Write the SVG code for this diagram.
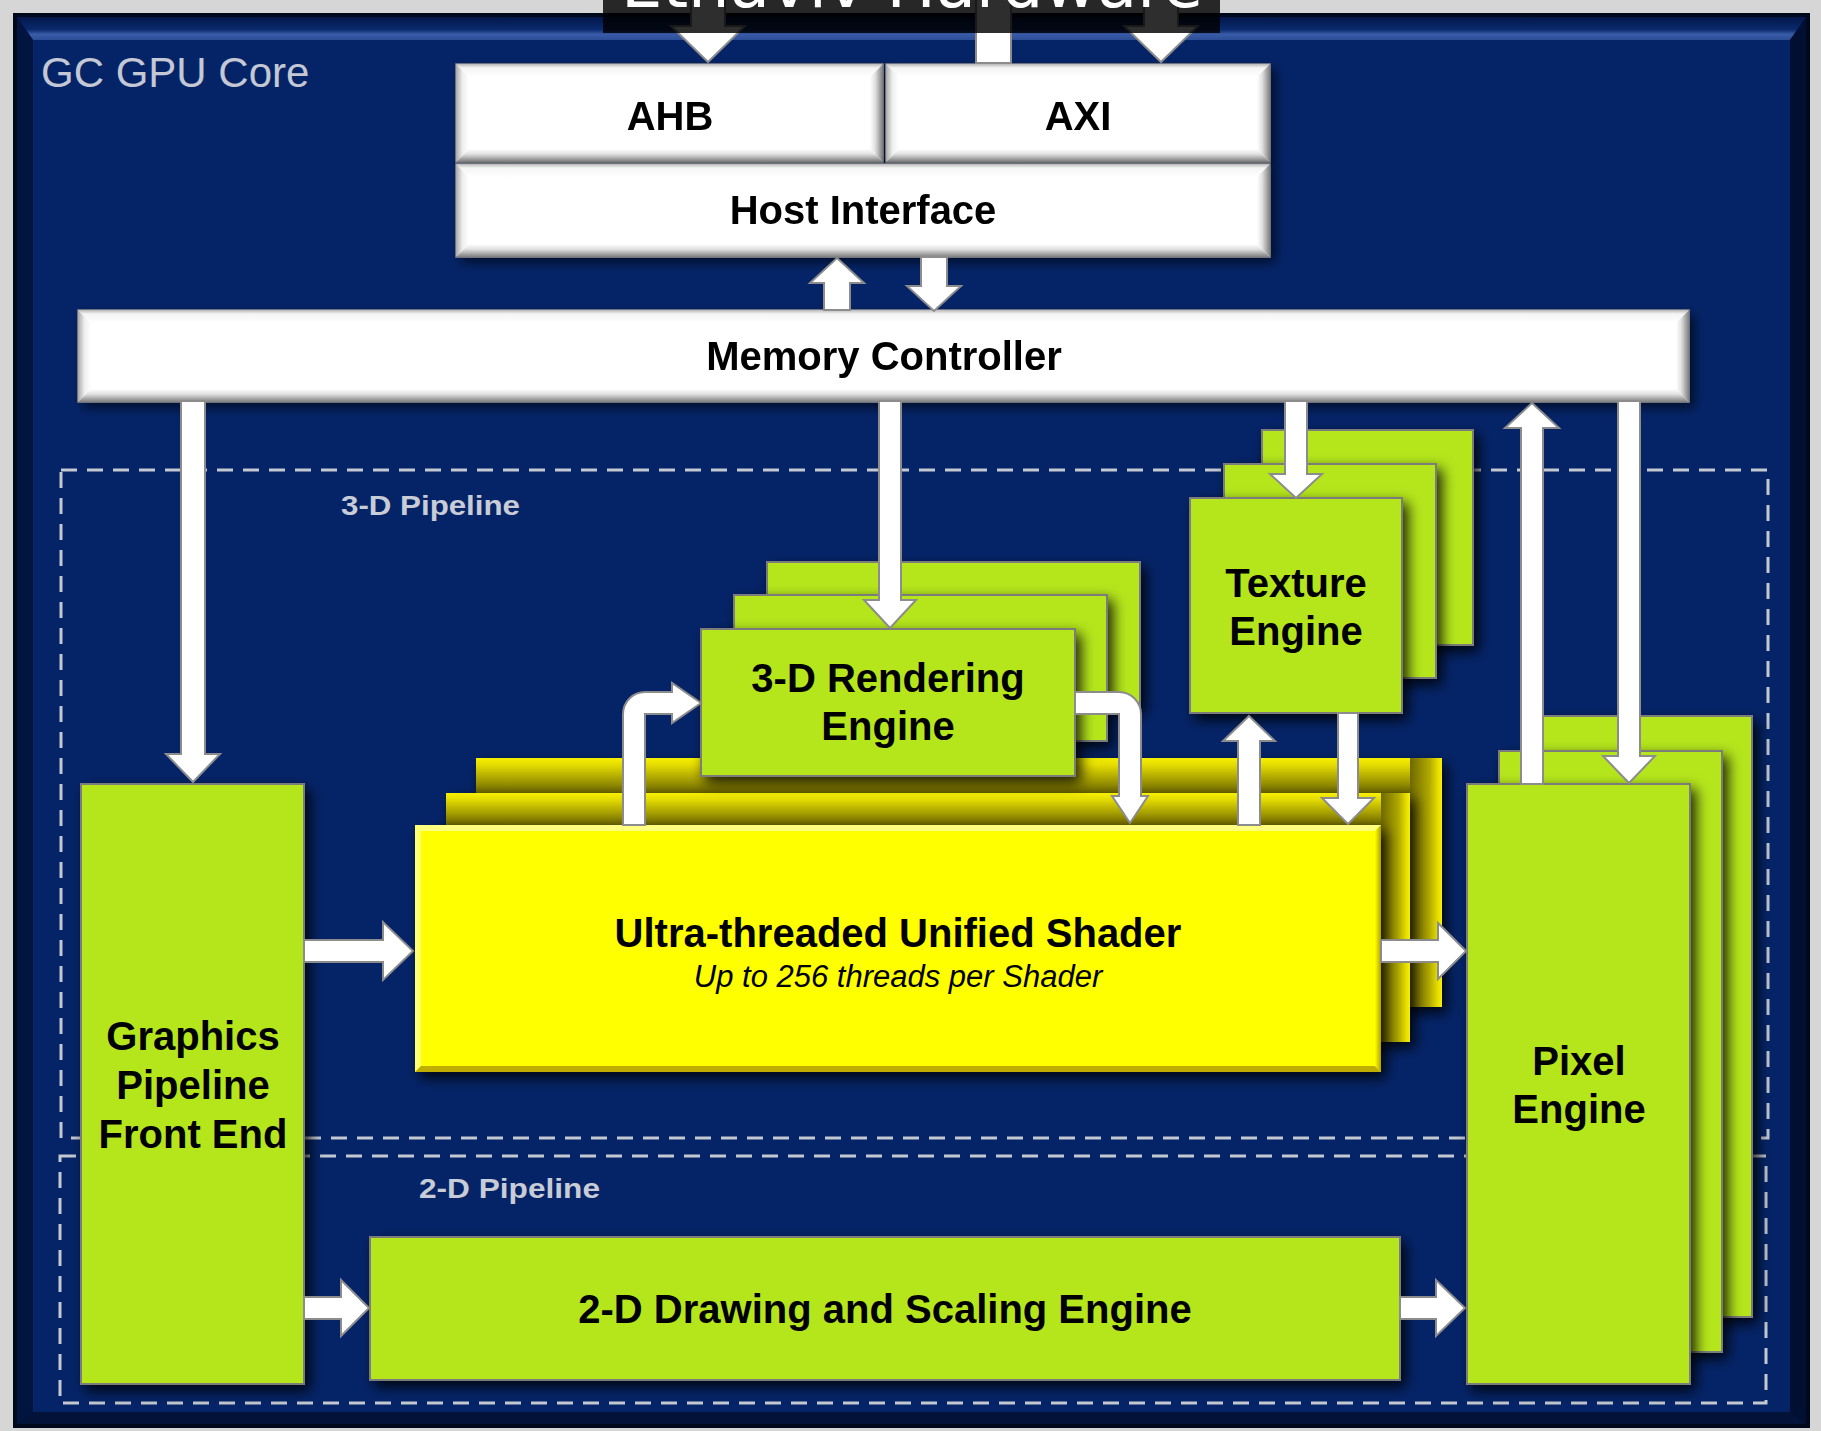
<svg xmlns="http://www.w3.org/2000/svg" width="1821" height="1431" viewBox="0 0 1821 1431">
<defs>
<style>
.t{font-family:"Liberation Sans",Arial,Helvetica,sans-serif;font-weight:bold;font-size:40px;fill:#000;text-anchor:middle}
.sub{font-family:"Liberation Sans",Arial,Helvetica,sans-serif;font-style:italic;font-size:31px;fill:#000;text-anchor:middle}
.lbl{font-family:"Liberation Sans",Arial,Helvetica,sans-serif;font-weight:bold;font-size:28px;fill:#c8ccd6}
.core{font-family:"Liberation Sans",Arial,Helvetica,sans-serif;font-size:42px;fill:#c3c8d4}
.g{fill:#b5e61d;stroke:#7c7c7c;stroke-width:2}
.w{fill:#fff;stroke:#8a8a8a;stroke-width:1.5}
.arr{fill:#fff;stroke:#8c8c8c;stroke-width:2}
.dash{fill:none;stroke:#c4c8d0;stroke-width:3;stroke-dasharray:16 10}
</style>
<linearGradient id="bT" x1="0" y1="0" x2="0" y2="1"><stop offset="0" stop-color="#b8b8b8"/><stop offset="0.3" stop-color="#f4f4f4"/><stop offset="1" stop-color="#fff"/></linearGradient>
<linearGradient id="bL" x1="0" y1="0" x2="1" y2="0"><stop offset="0" stop-color="#a8a8a8"/><stop offset="0.5" stop-color="#eee"/><stop offset="1" stop-color="#fff"/></linearGradient>
<linearGradient id="bB" x1="0" y1="0" x2="0" y2="1"><stop offset="0" stop-color="#fff"/><stop offset="0.4" stop-color="#e0e0e0"/><stop offset="1" stop-color="#7e7e7e"/></linearGradient>
<linearGradient id="bR" x1="0" y1="0" x2="1" y2="0"><stop offset="0" stop-color="#fff"/><stop offset="0.4" stop-color="#e0e0e0"/><stop offset="1" stop-color="#7e7e7e"/></linearGradient>
<linearGradient id="yV" x1="0" y1="0" x2="0" y2="1"><stop offset="0" stop-color="#f8f000"/><stop offset="0.2" stop-color="#e4dc00"/><stop offset="1" stop-color="#6e6800"/></linearGradient>
<linearGradient id="yH" x1="0" y1="0" x2="1" y2="0"><stop offset="0" stop-color="#6e6800"/><stop offset="0.6" stop-color="#b0a800"/><stop offset="0.88" stop-color="#e8e000"/><stop offset="1" stop-color="#f8f000"/></linearGradient>
<linearGradient id="yR" x1="0" y1="0" x2="1" y2="0"><stop offset="0" stop-color="#ffff00"/><stop offset="1" stop-color="#b0a000"/></linearGradient>
<linearGradient id="pT" x1="0" y1="0" x2="0" y2="1"><stop offset="0" stop-color="#03174a"/><stop offset="0.55" stop-color="#0a2a6e"/><stop offset="0.75" stop-color="#3a5ca8"/><stop offset="1" stop-color="#2c4e98"/></linearGradient>
<filter id="ds" filterUnits="userSpaceOnUse" x="0" y="0" width="1821" height="1431">
<feDropShadow dx="5" dy="6" stdDeviation="7" flood-color="#000" flood-opacity="0.85"/>
</filter>
<filter id="dsw" filterUnits="userSpaceOnUse" x="0" y="0" width="1821" height="1431">
<feDropShadow dx="5" dy="5" stdDeviation="6" flood-color="#000" flood-opacity="0.6"/>
</filter>
</defs>

<rect x="0" y="0" width="1821" height="1431" fill="#d6d6d6"/>

<g id="panel">
<rect x="13" y="13" width="1797" height="1415" fill="#00081c"/>
<rect x="17" y="17" width="1789" height="1407" fill="#031a4e"/>
<polygon points="17,17 1806,17 1790,40 33,40" fill="url(#pT)"/>
<polygon points="17,17 33,40 33,1412 17,1424" fill="#021540"/>
<polygon points="1806,17 1806,1424 1790,1412 1790,40" fill="#010f32"/>
<polygon points="17,1424 33,1412 1790,1412 1806,1424" fill="#021238"/>
<rect x="33" y="40" width="1757" height="1372" fill="#052468"/>
<text class="core" x="41" y="87">GC GPU Core</text>
</g>

<g id="pipelines">
<rect class="dash" x="61" y="470" width="1707" height="668"/>
<text class="lbl" x="341" y="515" textLength="179" lengthAdjust="spacingAndGlyphs">3-D Pipeline</text>
<rect class="dash" x="60" y="1156" width="1706" height="247"/>
<text class="lbl" x="419" y="1198" textLength="181" lengthAdjust="spacingAndGlyphs">2-D Pipeline</text>
</g>

<g id="ahb" filter="url(#dsw)">
<rect class="w" x="456" y="64" width="427" height="98"/>
<polygon points="456,64 883,64 870,77 469,77" fill="url(#bT)"/>
<polygon points="456,64 469,77 469,149 456,162" fill="url(#bL)"/>
<polygon points="456,162 469,149 870,149 883,162" fill="url(#bB)"/>
<polygon points="883,64 883,162 870,149 870,77" fill="url(#bR)"/>
<text class="t" x="670" y="130">AHB</text>
</g>
<g id="axi" filter="url(#dsw)">
<rect class="w" x="886" y="64" width="384" height="98"/>
<polygon points="886,64 1270,64 1257,77 899,77" fill="url(#bT)"/>
<polygon points="886,64 899,77 899,149 886,162" fill="url(#bL)"/>
<polygon points="886,162 899,149 1257,149 1270,162" fill="url(#bB)"/>
<polygon points="1270,64 1270,162 1257,149 1257,77" fill="url(#bR)"/>
<text class="t" x="1078" y="130">AXI</text>
</g>
<g id="host-interface" filter="url(#dsw)">
<rect class="w" x="456" y="164" width="814" height="93"/>
<polygon points="456,164 1270,164 1257,177 469,177" fill="url(#bT)"/>
<polygon points="456,164 469,177 469,244 456,257" fill="url(#bL)"/>
<polygon points="456,257 469,244 1257,244 1270,257" fill="url(#bB)"/>
<polygon points="1270,164 1270,257 1257,244 1257,177" fill="url(#bR)"/>
<text class="t" x="863" y="224">Host Interface</text>
</g>
<g id="memory-controller" filter="url(#dsw)">
<rect class="w" x="78" y="310" width="1611" height="92"/>
<polygon points="78,310 1689,310 1676,323 91,323" fill="url(#bT)"/>
<polygon points="78,310 91,323 91,389 78,402" fill="url(#bL)"/>
<polygon points="78,402 91,389 1676,389 1689,402" fill="url(#bB)"/>
<polygon points="1689,310 1689,402 1676,389 1676,323" fill="url(#bR)"/>
<text class="t" x="884" y="370">Memory Controller</text>
</g>

<g id="graphics-pipeline-front-end">
<rect class="g" x="81" y="784" width="223" height="600" filter="url(#ds)"/>
<text class="t" x="193" y="1050">Graphics</text>
<text class="t" x="193" y="1099">Pipeline</text>
<text class="t" x="193" y="1148">Front End</text>
</g>

<g id="unified-shader">
<g filter="url(#ds)">
<rect x="476" y="758" width="966" height="249" fill="#ffff00"/>
<rect x="476" y="758" width="966" height="35" fill="url(#yV)"/>
<rect x="1410" y="758" width="32" height="249" fill="url(#yH)"/>
</g>
<g filter="url(#ds)">
<rect x="446" y="793" width="964" height="249" fill="#ffff00"/>
<rect x="446" y="793" width="964" height="32" fill="url(#yV)"/>
<rect x="1381" y="793" width="29" height="249" fill="url(#yH)"/>
</g>
<g filter="url(#ds)">
<rect x="415" y="825" width="966" height="247" fill="#ffff00"/>
<polygon points="415,825 1381,825 1375,831 421,831" fill="#ffff80"/>
<polygon points="415,825 421,831 421,1066 415,1072" fill="#ffff70"/>
<polygon points="415,1072 421,1066 1375,1066 1381,1072" fill="#bfae00"/>
<polygon points="1381,825 1381,1072 1375,1066 1375,831" fill="url(#yR)"/>
</g>
<text class="t" x="898" y="947">Ultra-threaded Unified Shader</text>
<text class="sub" x="898" y="987">Up to 256 threads per Shader</text>
</g>

<g id="rendering-engine-3d">
<rect class="g" x="767" y="562" width="373" height="146" filter="url(#ds)"/>
<rect class="g" x="734" y="595" width="373" height="146" filter="url(#ds)"/>
<rect class="g" x="701" y="629" width="374" height="147" filter="url(#ds)"/>
<text class="t" x="888" y="692">3-D Rendering</text>
<text class="t" x="888" y="740">Engine</text>
</g>

<g id="texture-engine">
<rect class="g" x="1262" y="430" width="211" height="215" filter="url(#ds)"/>
<rect class="g" x="1224" y="464" width="212" height="214" filter="url(#ds)"/>
<rect class="g" x="1190" y="498" width="212" height="215" filter="url(#ds)"/>
<text class="t" x="1296" y="597">Texture</text>
<text class="t" x="1296" y="645">Engine</text>
</g>

<g id="pixel-engine">
<rect class="g" x="1531" y="716" width="221" height="601" filter="url(#ds)"/>
<rect class="g" x="1499" y="751" width="223" height="601" filter="url(#ds)"/>
<rect class="g" x="1467" y="784" width="223" height="600" filter="url(#ds)"/>
<text class="t" x="1579" y="1075">Pixel</text>
<text class="t" x="1579" y="1123">Engine</text>
</g>

<g id="drawing-scaling-engine-2d">
<rect class="g" x="370" y="1237" width="1030" height="143" filter="url(#ds)"/>
<text class="t" x="885" y="1323">2-D Drawing and Scaling Engine</text>
</g>

<g id="connectors">
<polygon class="arr" points="691,-10 725,-10 725,26 745,26 708,62 671,26 691,26"/>
<polygon class="arr" points="1144,-10 1178,-10 1178,26 1198,26 1161,62 1124,26 1144,26"/>
<rect class="arr" x="976" y="-10" width="35" height="73"/>
<polygon class="arr" points="921,257 947,257 947,286 961,286 934,311 907,286 921,286"/>
<polygon class="arr" points="837,258 864,283 850,283 850,310 824,310 824,283 810,283"/>
<polygon class="arr" points="181,401 205,401 205,754 220,754 193,782 166,754 181,754"/>
<polygon class="arr" points="879,401 901,401 901,600 916,600 890,628 864,600 879,600"/>
<polygon class="arr" points="1285,401 1307,401 1307,474 1322,474 1296,498 1270,474 1285,474"/>
<polygon class="arr" points="1532,403 1559,428 1543,428 1543,784 1521,784 1521,428 1505,428"/>
<polygon class="arr" points="1618,401 1640,401 1640,756 1655,756 1629,783 1603,756 1618,756"/>
<polygon class="arr" points="1338,713 1358,713 1358,798 1374,798 1348,824 1322,798 1338,798"/>
<polygon class="arr" points="1249,716 1275,741 1260,741 1260,825 1238,825 1238,741 1223,741"/>
<path class="arr" d="M623,825 L623,714 A22,22 0 0 1 645,692 L672,692 L672,683 L701,703 L672,723 L672,714 L645,714 L645,825 Z"/>
<path class="arr" d="M1075,692 L1119,692 A22,22 0 0 1 1141,714 L1141,796 L1148,796 L1130,823 L1112,796 L1119,796 L1119,714 L1075,714 Z"/>
<polygon class="arr" points="304,940 383,940 383,922 413,951 383,980 383,962 304,962"/>
<polygon class="arr" points="1381,940 1438,940 1438,923 1466,951 1438,979 1438,962 1381,962"/>
<polygon class="arr" points="304,1297 341,1297 341,1280 369,1308 341,1336 341,1319 304,1319"/>
<polygon class="arr" points="1400,1297 1436,1297 1436,1280 1465,1308 1436,1336 1436,1319 1400,1319"/>
</g>

<g id="title">
<rect x="603" y="-5" width="617" height="38" fill="#000" fill-opacity="0.82"/>
<text x="621" y="7" font-family="DejaVu Sans, sans-serif" font-size="65" fill="#fff" textLength="582" lengthAdjust="spacingAndGlyphs">Etnaviv Hardware</text>
</g>
</svg>
